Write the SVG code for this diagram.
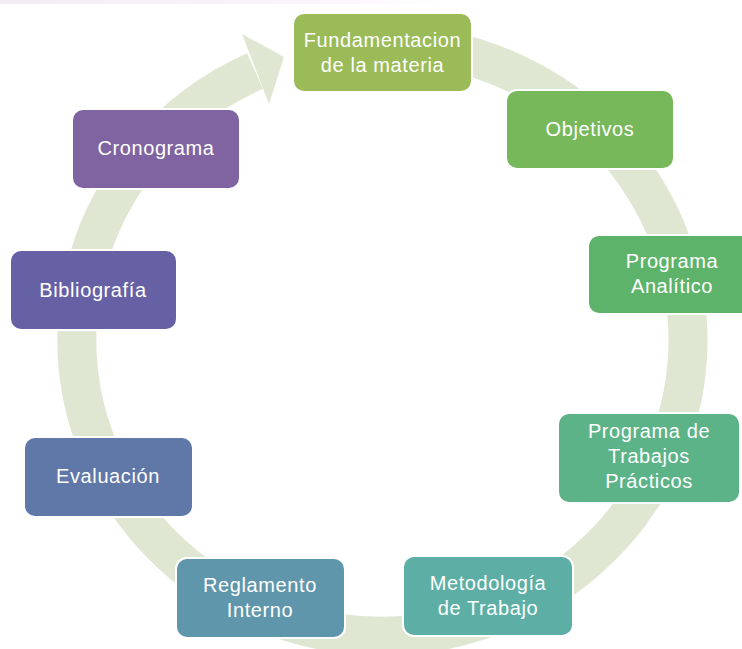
<svg xmlns="http://www.w3.org/2000/svg" width="742" height="649" viewBox="0 0 742 649">
<defs>
<linearGradient id="topband" x1="0" y1="0" x2="1" y2="0">
<stop offset="0" stop-color="#f4ecf4"/>
<stop offset="0.45" stop-color="#faf6fa"/>
<stop offset="0.6" stop-color="#ffffff"/>
</linearGradient>
</defs>
<style>
.box{stroke:#ffffff;stroke-width:2}
.lbl{font-family:"Liberation Sans",Arial,sans-serif;font-size:20px;letter-spacing:0.6px;fill:#ffffff;text-anchor:middle}
.ring{fill:none;stroke:#dfe7d3;stroke-width:39}
</style>
<rect x="0" y="0" width="742" height="649" fill="#ffffff"/>
<rect x="0" y="0" width="742" height="4" fill="url(#topband)"/>
<g id="connectors">
<path class="ring" d="M382,44 A305.5,296 0 1 1 255,71"/>
<polygon points="242,34 284,57 269,104" fill="#dfe7d3"/>
</g>
<g id="fundamentacion">
<rect class="box" x="293" y="13" width="179" height="79" rx="11" fill="#9bbb59"/>
<text class="lbl" x="382.5" y="47">Fundamentacion</text>
<text class="lbl" x="382.5" y="72">de la materia</text>
</g>
<g id="objetivos">
<rect class="box" x="506" y="90" width="168" height="79" rx="11" fill="#77b85a"/>
<text class="lbl" x="590" y="136">Objetivos</text>
</g>
<g id="programa-analitico">
<rect class="box" x="588" y="235" width="172" height="79" rx="11" fill="#5db369"/>
<text class="lbl" x="672" y="268">Programa</text>
<text class="lbl" x="672" y="293">Analítico</text>
</g>
<g id="programa-tp">
<rect class="box" x="558" y="413" width="182" height="90" rx="11" fill="#5db388"/>
<text class="lbl" x="649" y="438">Programa de</text>
<text class="lbl" x="649" y="463">Trabajos</text>
<text class="lbl" x="649" y="488">Prácticos</text>
</g>
<g id="metodologia">
<rect class="box" x="403" y="556" width="170" height="80" rx="11" fill="#5dafa5"/>
<text class="lbl" x="488" y="590">Metodología</text>
<text class="lbl" x="488" y="615">de Trabajo</text>
</g>
<g id="reglamento">
<rect class="box" x="176" y="558" width="169" height="80" rx="11" fill="#5f96ab"/>
<text class="lbl" x="260" y="592">Reglamento</text>
<text class="lbl" x="260" y="617">Interno</text>
</g>
<g id="evaluacion">
<rect class="box" x="24" y="437" width="169" height="80" rx="11" fill="#5f78a8"/>
<text class="lbl" x="108" y="483">Evaluación</text>
</g>
<g id="bibliografia">
<rect class="box" x="10" y="250" width="167" height="80" rx="11" fill="#6661a5"/>
<text class="lbl" x="93" y="297">Bibliografía</text>
</g>
<g id="cronograma">
<rect class="box" x="72" y="109" width="168" height="80" rx="11" fill="#8064a2"/>
<text class="lbl" x="156" y="155">Cronograma</text>
</g>
</svg>
